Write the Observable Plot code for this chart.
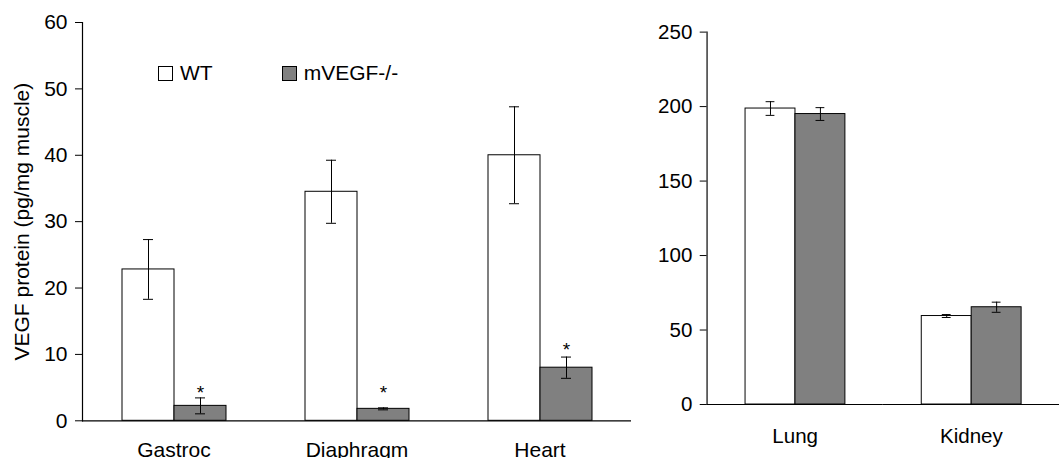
<!DOCTYPE html>
<html>
<head>
<meta charset="utf-8">
<script src="https://cdn.jsdelivr.net/npm/d3@7"></script>
<script src="https://cdn.jsdelivr.net/npm/@observablehq/plot@0.6"></script>
<style>
  html, body { margin: 0; padding: 0; background: #fff; overflow: hidden; width: 1059px; height: 458px; }
  #wrap { position: relative; width: 1059px; height: 458px; overflow: hidden; font-family: "Liberation Sans", Arial, sans-serif; }
  #left { position: absolute; left: 0; top: 0; }
  #right { position: absolute; left: 640px; top: 0; }
  .legend { position: absolute; top: 61px; left: 158px; display: flex; align-items: center; font-size: 21px; color: #000; }
  .legend .item { display: flex; align-items: center; }
  .legend .sw { width: 15px; height: 15px; border: 1px solid #000; margin-right: 7px; box-sizing: border-box; }
</style>
</head>
<body>
<div id="wrap">
  <div id="left"></div>
  <div id="right"></div>
  <div class="legend" id="legend"></div>
</div>
<script>
// ---- data ----
const genotypes = ["WT", "mVEGF-/-"];
const genotypeColors = ["#ffffff", "#808080"];

const muscleTissues = ["Gastroc", "Diaphragm", "Heart"];
const muscleWT = [22.8, 34.5, 40.0];
const muscleWTErr = [4.5, 4.75, 7.3];
const muscleKO = [2.25, 1.8, 8.0];
const muscleKOErr = [1.2, 0.15, 1.6];
const muscleStarY = [5.0, 4.9, 11.4];
const muscleTicks = [0, 10, 20, 30, 40, 50, 60];
const muscleLabel = "VEGF protein (pg/mg muscle)";

const otherTissues = ["Lung", "Kidney"];
const otherWT = [198.7, 59.4];
const otherWTErr = [4.6, 1.0];
const otherKO = [195.0, 65.3];
const otherKOErr = [4.3, 3.4];
const otherTicks = [0, 50, 100, 150, 200, 250];

function rows(tissues, wt, wtErr, ko, koErr) {
  const out = [];
  tissues.forEach((t, i) => {
    out.push({tissue: t, genotype: genotypes[0], value: wt[i], lo: wt[i] - wtErr[i], hi: wt[i] + wtErr[i]});
    out.push({tissue: t, genotype: genotypes[1], value: ko[i], lo: ko[i] - koErr[i], hi: ko[i] + koErr[i]});
  });
  return out;
}

const FONT = '"Liberation Sans", Arial, sans-serif';

function panel(data, tissues, yMax, ticks, opts) {
  const marks = [
    Plot.barY(data, {fx: "tissue", x: "genotype", y: "value", fill: "genotype", stroke: "#000", strokeWidth: 1}),
    Plot.ruleX(data, {fx: "tissue", x: "genotype", y1: "lo", y2: "hi", stroke: "#000", strokeWidth: 1}),
    Plot.tickY(data, {fx: "tissue", x: "genotype", y: "hi", stroke: "#000", insetLeft: opts.capInset, insetRight: opts.capInset}),
    Plot.tickY(data, {fx: "tissue", x: "genotype", y: "lo", stroke: "#000", insetLeft: opts.capInset, insetRight: opts.capInset}),
    Plot.ruleY([0], {stroke: "#000", strokeWidth: 1.2}),
    Plot.frame({anchor: "left", facetAnchor: "left", stroke: "#000", strokeWidth: 1.2}),
    Plot.axisY({ticks, tickSize: 7, tickPadding: 8, label: opts.label ?? null, labelAnchor: "center", labelArrow: "none", labelOffset: opts.labelOffset ?? 0, fontSize: 21}),
    Plot.axisFx({anchor: "bottom", tickSize: 0, tickPadding: opts.fxPad, label: null, fontSize: 21})
  ];
  if (opts.stars) {
    marks.push(Plot.text(opts.stars, {fx: "tissue", x: () => genotypes[1], y: "y", text: () => "*", fontSize: 19, dy: 5}));
  }
  return Plot.plot({
    width: opts.width, height: 458,
    marginLeft: opts.marginLeft, marginRight: 0, marginTop: opts.marginTop, marginBottom: opts.marginBottom,
    style: {fontFamily: FONT, fontSize: "21px", color: "#000", background: "transparent", overflow: "visible"},
    fx: {domain: tissues, padding: 0, label: null},
    x: {domain: genotypes, paddingInner: 0, paddingOuter: 0.75, axis: null},
    y: {domain: [0, yMax], axis: null},
    color: {domain: genotypes, range: genotypeColors},
    marks
  });
}

const muscleRows = rows(muscleTissues, muscleWT, muscleWTErr, muscleKO, muscleKOErr);
const otherRows = rows(otherTissues, otherWT, otherWTErr, otherKO, otherKOErr);
const stars = muscleTissues.map((t, i) => ({tissue: t, y: muscleStarY[i]}));

document.getElementById("left").append(panel(muscleRows, muscleTissues, 60, muscleTicks, {
  width: 632, marginLeft: 81, marginTop: 22, marginBottom: 37.7, fxPad: 21, capInset: 21,
  label: muscleLabel, labelOffset: 68, stars
}));
document.getElementById("right").append(panel(otherRows, otherTissues, 250, otherTicks, {
  width: 428, marginLeft: 67.7, marginTop: 32.3, marginBottom: 45.3, fxPad: 24, capInset: 21
}));

// legend
const legend = document.getElementById("legend");
genotypes.forEach((g, i) => {
  const item = document.createElement("div");
  item.className = "item";
  if (i > 0) item.style.marginLeft = "69px";
  const sw = document.createElement("div");
  sw.className = "sw";
  sw.style.background = genotypeColors[i];
  const lab = document.createElement("span");
  lab.textContent = g;
  item.append(sw, lab);
  legend.append(item);
});
</script>
</body>
</html>
